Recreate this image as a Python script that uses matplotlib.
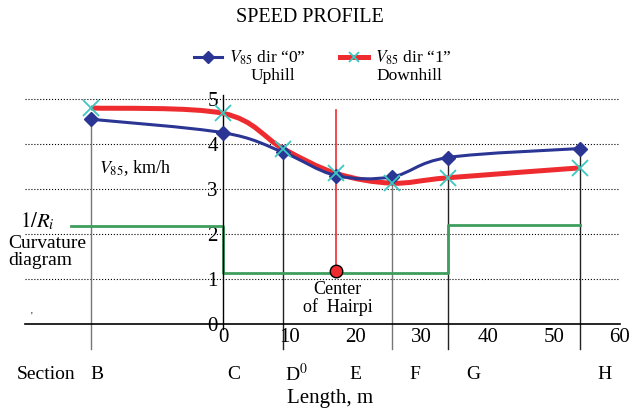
import numpy as np
import matplotlib
matplotlib.use('Agg')
import matplotlib.pyplot as plt
from matplotlib.path import Path
from matplotlib.patches import PathPatch
from matplotlib.lines import Line2D

plt.rcParams['font.family'] = ['Liberation Serif', 'DejaVu Serif']
plt.rcParams['mathtext.fontset'] = 'stix'

# data
sections = ['B', 'C', 'D$^0$', 'E', 'F', 'G', 'H']
section_x = [-20, 0, 9, 17, 25.5, 34, 54]
v85_up = [4.55, 4.25, 3.82, 3.30, 3.27, 3.70, 3.90]      # dir "0" uphill
v85_down = [4.80, 4.68, 3.90, 3.35, 3.13, 3.25, 3.47]    # dir "1" downhill
curv_x = [-23, 0, 34, 54]
curv_y = [2.18, 1.14, 2.20, 2.20]
center_x = 17
center_y = 1.18
x_ticks = [0, 10, 20, 30, 40, 50, 60]
y_ticks = [0, 1, 2, 3, 4, 5]

BLUE = '#2b3593'
RED = '#ee2b2e'
CYAN = '#3cc8c0'
GREEN = '#3f9e5e'


def smooth_path(xs, ys):
    # bezier path like Excel "smoothed line"
    pts = np.column_stack([xs, ys])
    verts = [pts[0]]
    codes = [Path.MOVETO]
    n = len(pts)
    for i in range(n - 1):
        p0 = pts[i - 1] if i > 0 else pts[i]
        p1 = pts[i]
        p2 = pts[i + 1]
        p3 = pts[i + 2] if i + 2 < n else pts[i + 1]
        c1 = p1 + (p2 - p0) / 6.0
        c2 = p2 - (p3 - p1) / 6.0
        verts += [c1, c2, p2]
        codes += [Path.CURVE4] * 3
    return Path(verts, codes)


fig = plt.figure(figsize=(6.44, 4.11), dpi=100)
ax = fig.add_axes([25 / 644, 87 / 411, 595 / 644, 5.2 * 45 / 411])
ax.set_xlim(-30, 60)
ax.set_ylim(0, 5.2)

for s in ['top', 'right']:
    ax.spines[s].set_visible(False)
ax.spines['left'].set_position(('data', 0))
ax.spines['left'].set_bounds(-0.1, 5.1)
ax.spines['bottom'].set_linewidth(1.2)
ax.spines['left'].set_linewidth(1.0)

ax.set_xticks(x_ticks)
ax.set_yticks(y_ticks)
ax.tick_params(length=0, labelsize=15)
ax.tick_params(axis='x', pad=3)
ax.tick_params(axis='y', pad=4)
for y in y_ticks[1:]:
    ax.axhline(y, color='k', linestyle=':', linewidth=0.8, zorder=0)

# vertical section lines
for i, (x, v) in enumerate(zip(section_x, v85_up)):
    if sections[i] in ('C', 'E'):
        continue
    col = '#777777' if sections[i] in ('B', 'F') else '#222222'
    top = v + 0.1 if sections[i] == 'H' else v
    ax.plot([x, x], [top, -0.56], color=col, linewidth=1.0, clip_on=False, zorder=1)

# curvature diagram
ax.step(curv_x, curv_y, where='post', color=GREEN, linewidth=2.0, zorder=2)

# center of hairpin
ax.plot([center_x, center_x], [4.75, center_y], color=RED, linewidth=1.2, zorder=3)
ax.plot(center_x, center_y, 'o', color=RED, markeredgecolor='k', markersize=9, zorder=6)

# speed profiles
ax.add_patch(PathPatch(smooth_path(section_x, v85_down), facecolor='none',
                       edgecolor=RED, linewidth=3.6, zorder=4))
ax.add_patch(PathPatch(smooth_path(section_x, v85_up), facecolor='none',
                       edgecolor=BLUE, linewidth=2.2, zorder=5))
ax.plot(section_x, v85_up, linestyle='none', marker='D', color=BLUE, markersize=7, zorder=6)
ax.plot(section_x, v85_down, linestyle='none', marker='x', color=CYAN,
        markersize=11, markeredgewidth=1.3, zorder=7)

# texts
ax.text(-18.8, 3.47, '$V_{85}$, km/h', fontsize=13, va='center', ha='left')
ax.text(-30.8, 2.27, '$1/R_i$', fontsize=15, va='center', ha='left', clip_on=False)
ax.text(-32.6, 1.6, 'Curvature\ndiagram', fontsize=14, va='center', ha='left',
        linespacing=1.0, clip_on=False)
ax.text(17.3, 0.57, 'Center\nof  Hairpi', fontsize=13, va='center', ha='center',
        linespacing=1.05)
ax.text(-29, 0.18, "'", fontsize=7, va='center', ha='center')

label_pos = [-19.1, 1.6, 11.1, 19.9, 29.0, 37.8, 57.7]
ax.text(-31.2, -1.12, 'Section', fontsize=14, va='center', ha='left', clip_on=False)
for lab, lx in zip(sections, label_pos):
    ax.text(lx, -1.12, lab, fontsize=14, va='center', ha='center', clip_on=False)
ax.text(16.2, -1.66, 'Length, m', fontsize=15, va='center', ha='center', clip_on=False)

fig.text(310 / 644, 1 - 18 / 411, 'SPEED PROFILE', fontsize=14.5, ha='center', va='center')

handles = [
    Line2D([], [], color=BLUE, linewidth=2.2, marker='D', markersize=6),
    Line2D([], [], color=RED, linewidth=3.6, marker='x', markersize=7,
           markeredgecolor=CYAN, markeredgewidth=1.3),
]
labels = ['$V_{85}$ dir \u201c0\u201d', '$V_{85}$ dir \u201c1\u201d']
fig.legend(handles, labels, loc='center', bbox_to_anchor=(323 / 644, 1 - 58 / 411),
           ncol=2, frameon=False, fontsize=12.5, handlelength=1.6,
           handletextpad=0.4, columnspacing=2.0, borderpad=0)
fig.text(273 / 644, 1 - 76 / 411, 'Uphill', fontsize=12.5, ha='center', va='center')
fig.text(409 / 644, 1 - 76 / 411, 'Downhill', fontsize=12.5, ha='center', va='center')

fig.savefig('out.png', dpi=100)
